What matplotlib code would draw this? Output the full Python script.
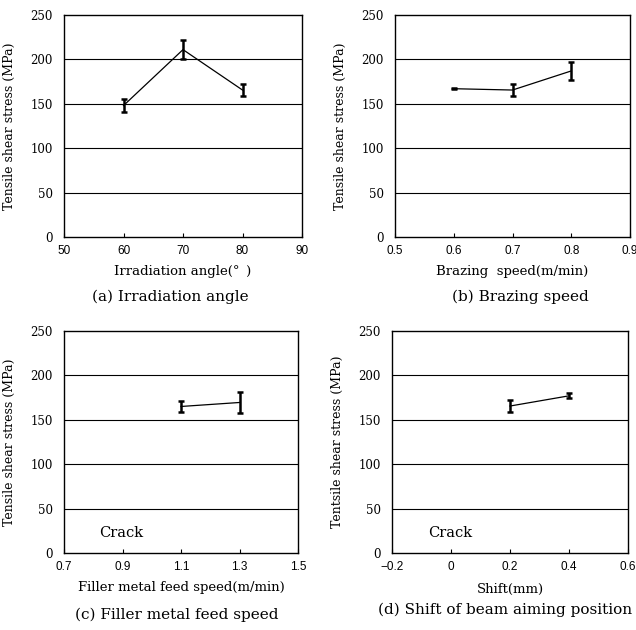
import numpy as np
import matplotlib
matplotlib.use("Agg")
import matplotlib.pyplot as plt

serif = "DejaVu Serif"
sans = "Liberation Sans"

# (a) Irradiation angle
ang_x = [60, 70, 80]
ang_y = [148, 211, 165.5]
ang_err = [7, 10.5, 6.5]

# (b) Brazing speed
brz_x = [0.6, 0.7, 0.8]
brz_y = [167, 165.5, 187]
brz_err = [0.4, 6.5, 10]

# (c) Filler metal feed speed
fil_x = [1.1, 1.3]
fil_y = [165, 169.5]
fil_err = [6.4, 12]

# (d) Shift of beam aiming position
sft_x = [0.2, 0.4]
sft_y = [165.5, 177]
sft_err = [6.5, 3]

W, H = 636, 630
fig = plt.figure(figsize=(W / 100, H / 100), dpi=100)


def px_axes(left, top, right, bottom):
    return fig.add_axes([left / W, 1 - bottom / H, (right - left) / W, (bottom - top) / H])


def panel(box, x, y, err, xlim, xticks, xfmt, xlabel, ylabel, caption, lab_y, cap_y, cap_x, crack=None):
    ax = px_axes(*box)
    ax.errorbar(x, y, yerr=err, color="black", lw=0.9, elinewidth=1.8,
                capsize=2.5, capthick=1.8, zorder=3)
    ax.set_xlim(*xlim)
    ax.set_ylim(0, 250)
    ax.set_yticks(np.arange(0, 251, 50))
    ax.set_xticks(xticks)
    ax.set_xticklabels([xfmt(t) for t in xticks], fontfamily=sans, fontsize=8.5)
    ax.set_yticklabels([str(int(t)) for t in np.arange(0, 251, 50)], fontfamily=serif, fontsize=8.5)
    ax.tick_params(axis="y", length=0, pad=8)
    ax.tick_params(axis="x", direction="in", length=3, width=0.8, pad=6)
    for yv in [50, 100, 150, 200]:
        ax.axhline(yv, color="black", lw=0.8, zorder=1)
    for s in ax.spines.values():
        s.set_linewidth(1.0)
    ax.set_ylabel(ylabel, fontfamily=serif, fontsize=9)
    ax.yaxis.set_label_coords(-48 / (box[2] - box[0]), 0.5)
    cx = (box[0] + box[2]) / 2
    fig.text(cx / W, 1 - lab_y / H, xlabel, ha="center", va="center", fontfamily=serif, fontsize=9.5)
    fig.text(cap_x / W, 1 - cap_y / H, caption, ha="center", va="center", fontfamily=serif, fontsize=11)
    if crack is not None:
        ax.text(crack[0], crack[1], "Crack", ha="left", va="center", fontfamily=serif, fontsize=10.5)
    return ax


panel((64, 15, 302, 237), ang_x, ang_y, ang_err, (50, 90), [50, 60, 70, 80, 90],
      lambda t: f"{t:g}", "Irradiation angle(°\u2002)", "Tensile shear stress (MPa)",
      "(a) Irradiation angle", 272, 297, 170)

panel((395, 15, 630, 237), brz_x, brz_y, brz_err, (0.5, 0.9), [0.5, 0.6, 0.7, 0.8, 0.9],
      lambda t: f"{t:.1f}", "Brazing  speed(m/min)", "Tensile shear stress (MPa)",
      "(b) Brazing speed", 272, 297, 520)

panel((64, 331, 298, 553), fil_x, fil_y, fil_err, (0.7, 1.5), [0.7, 0.9, 1.1, 1.3, 1.5],
      lambda t: f"{t:.1f}", "Filler metal feed speed(m/min)", "Tensile shear stress (MPa)",
      "(c) Filler metal feed speed", 588, 615, 177, crack=(0.82, 22))

panel((392, 331, 628, 553), sft_x, sft_y, sft_err, (-0.2, 0.6), [-0.2, 0, 0.2, 0.4, 0.6],
      lambda t: "\u22120.2" if t < 0 else f"{t:g}", "Shift(mm)", "Tentsile shear stress (MPa)",
      "(d) Shift of beam aiming position", 589, 610, 505, crack=(-0.078, 22))

fig.savefig("out.png", dpi=100)
